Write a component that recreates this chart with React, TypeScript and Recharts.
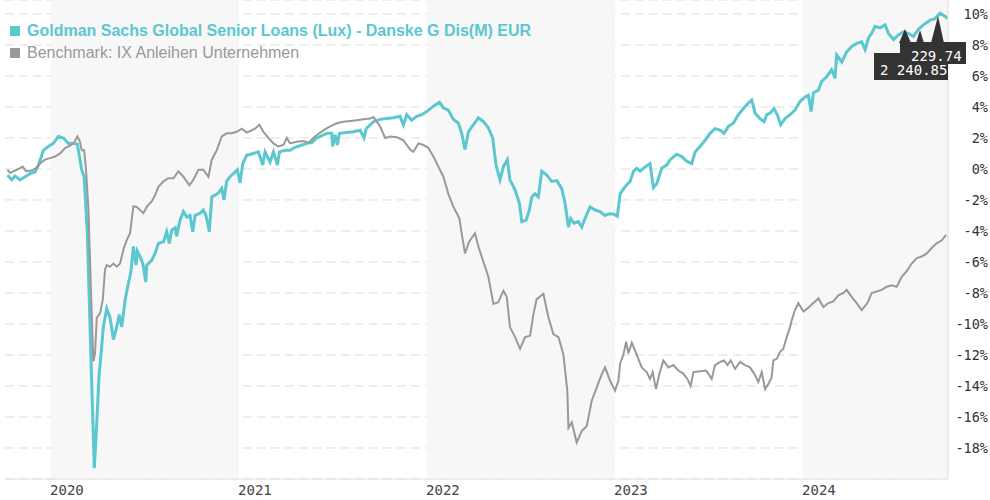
import { LineChart, Line, XAxis, YAxis, CartesianGrid, ReferenceArea } from "recharts"

// [year as decimal, performance in %]
const fundSeries: [number, number][] = [
  [2019.768, -0.4], [2019.791, -0.7], [2019.809, -0.45], [2019.835, -0.7], [2019.862, -0.5],
  [2019.888, -0.3], [2019.915, -0.2], [2019.933, 0.25], [2019.959, 1.2], [2019.986, 1.45],
  [2020.012, 1.65], [2020.039, 2.1], [2020.066, 2.0], [2020.092, 1.65], [2020.119, 1.65],
  [2020.14, 1.6], [2020.154, 0.6], [2020.163, -0.05], [2020.176, -0.5], [2020.193, -4.15],
  [2020.211, -11.7], [2020.23, -19.3], [2020.243, -16.4], [2020.255, -13.4], [2020.266, -11.9],
  [2020.278, -10.2], [2020.296, -9.0], [2020.314, -9.6], [2020.332, -11.0], [2020.349, -10.2],
  [2020.363, -9.4], [2020.376, -10.2], [2020.394, -8.45], [2020.411, -7.4], [2020.424, -6.7],
  [2020.438, -5.0], [2020.452, -6.2], [2020.459, -5.3], [2020.473, -5.65], [2020.488, -6.1],
  [2020.504, -7.3], [2020.509, -6.2], [2020.535, -5.9], [2020.553, -5.45], [2020.571, -4.8],
  [2020.598, -4.7], [2020.615, -4.05], [2020.629, -4.8], [2020.642, -3.95], [2020.66, -3.8],
  [2020.668, -4.35], [2020.686, -3.3], [2020.704, -2.75], [2020.722, -3.1], [2020.739, -3.0],
  [2020.754, -4.05], [2020.766, -3.0], [2020.793, -2.85], [2020.81, -2.65], [2020.824, -3.0],
  [2020.842, -4.05], [2020.855, -1.8], [2020.872, -1.7], [2020.89, -1.55], [2020.908, -1.25],
  [2020.92, -2.0], [2020.934, -0.8], [2020.952, -0.5], [2020.97, -0.3], [2020.991, -0.05],
  [2021.005, -0.9], [2021.02, 0.35], [2021.041, 0.9], [2021.05, 0.9], [2021.076, 1.0],
  [2021.103, 1.1], [2021.126, 0.25], [2021.138, 1.1], [2021.165, 0.45], [2021.183, 1.1],
  [2021.204, 0.25], [2021.215, 1.1], [2021.245, 1.2], [2021.271, 1.2], [2021.298, 1.4],
  [2021.324, 1.5], [2021.36, 1.65], [2021.387, 1.7], [2021.413, 2.0], [2021.449, 2.2],
  [2021.47, 2.3], [2021.493, 2.3], [2021.498, 1.45], [2021.511, 2.2], [2021.523, 1.55],
  [2021.534, 2.3], [2021.573, 2.35], [2021.608, 2.4], [2021.644, 2.5], [2021.665, 2.0],
  [2021.676, 2.6], [2021.715, 3.05], [2021.75, 3.2], [2021.785, 3.25], [2021.821, 3.3],
  [2021.856, 3.4], [2021.874, 2.85], [2021.892, 3.5], [2021.918, 3.15], [2021.945, 3.4],
  [2021.972, 3.5], [2021.998, 3.7], [2022.034, 4.05], [2022.066, 4.3], [2022.087, 3.95],
  [2022.113, 3.8], [2022.14, 3.2], [2022.167, 2.95], [2022.184, 2.3], [2022.202, 1.25],
  [2022.22, 2.4], [2022.246, 2.85], [2022.273, 3.3], [2022.3, 3.05], [2022.326, 2.65],
  [2022.349, 2.0], [2022.367, 0.25], [2022.388, -0.7], [2022.406, 0.15], [2022.427, 0.6],
  [2022.441, -0.7], [2022.468, -1.35], [2022.491, -2.2], [2022.504, -3.4], [2022.527, -3.3],
  [2022.544, -2.65], [2022.557, -1.8], [2022.574, -1.6], [2022.592, -1.8], [2022.61, -0.15],
  [2022.637, -0.4], [2022.663, -0.8], [2022.69, -0.75], [2022.716, -1.25], [2022.734, -2.2],
  [2022.752, -3.75], [2022.764, -3.2], [2022.782, -3.5], [2022.805, -3.4], [2022.823, -3.75],
  [2022.84, -3.2], [2022.867, -2.45], [2022.894, -2.65], [2022.92, -2.75], [2022.947, -3.0],
  [2022.965, -2.9], [2022.991, -2.9], [2023.012, -3.05], [2023.027, -1.6], [2023.053, -1.15],
  [2023.08, -0.8], [2023.098, -0.15], [2023.115, 0.05], [2023.133, -0.15], [2023.151, 0.05],
  [2023.186, 0.35], [2023.204, -1.2], [2023.222, -0.95], [2023.248, 0.05], [2023.275, 0.25],
  [2023.293, 0.6], [2023.328, 0.95], [2023.355, 0.8], [2023.381, 0.5], [2023.408, 0.35],
  [2023.426, 1.1], [2023.452, 1.45], [2023.479, 1.85], [2023.505, 2.3], [2023.532, 2.6],
  [2023.559, 2.5], [2023.58, 2.3], [2023.603, 2.75], [2023.629, 2.95], [2023.656, 3.5],
  [2023.683, 3.9], [2023.709, 4.25], [2023.727, 4.45], [2023.745, 3.6], [2023.771, 3.25],
  [2023.793, 3.05], [2023.807, 3.5], [2023.824, 3.6], [2023.846, 3.9], [2023.863, 3.5],
  [2023.881, 2.85], [2023.904, 3.25], [2023.931, 3.5], [2023.957, 3.8], [2023.984, 4.35],
  [2024.011, 4.65], [2024.028, 4.75], [2024.043, 3.7], [2024.055, 4.9], [2024.082, 5.1],
  [2024.099, 5.65], [2024.126, 5.95], [2024.152, 6.4], [2024.17, 5.85], [2024.179, 7.35],
  [2024.206, 6.9], [2024.232, 7.55], [2024.259, 7.9], [2024.285, 8.1], [2024.312, 8.2],
  [2024.33, 7.7], [2024.348, 8.45], [2024.365, 8.75], [2024.383, 9.2], [2024.41, 9.1],
  [2024.436, 9.3], [2024.454, 8.75], [2024.481, 8.35], [2024.507, 8.65], [2024.534, 8.85],
  [2024.56, 8.75], [2024.587, 8.55], [2024.613, 9.0], [2024.64, 9.3], [2024.676, 9.6],
  [2024.702, 9.7], [2024.729, 10.05], [2024.755, 9.85], [2024.768, 9.7],
]

const benchSeries: [number, number][] = [
  [2019.768, -0.05], [2019.782, -0.25], [2019.809, -0.1], [2019.835, 0.05], [2019.849, 0.15],
  [2019.867, -0.15], [2019.897, -0.1], [2019.92, 0.05], [2019.941, 0.35], [2019.968, 0.6],
  [2019.995, 0.7], [2020.021, 0.8], [2020.048, 1.0], [2020.074, 1.35], [2020.101, 1.5],
  [2020.122, 1.7], [2020.14, 2.1], [2020.154, 1.75], [2020.163, 1.2], [2020.176, 1.2],
  [2020.186, -0.05], [2020.199, -2.65], [2020.211, -7.4], [2020.225, -12.4], [2020.234, -11.9],
  [2020.243, -9.6], [2020.261, -9.3], [2020.275, -8.45], [2020.287, -6.5], [2020.296, -6.2],
  [2020.314, -6.3], [2020.332, -6.1], [2020.349, -6.3], [2020.367, -6.1], [2020.385, -5.2],
  [2020.402, -4.6], [2020.42, -4.15], [2020.438, -2.4], [2020.456, -2.45], [2020.473, -2.65],
  [2020.491, -2.85], [2020.509, -2.45], [2020.535, -2.1], [2020.553, -1.7], [2020.571, -1.15],
  [2020.598, -0.8], [2020.624, -0.6], [2020.651, -0.6], [2020.677, -0.15], [2020.704, -0.5],
  [2020.736, -1.05], [2020.757, -0.7], [2020.784, -0.05], [2020.81, -0.05], [2020.837, -0.5],
  [2020.855, 0.6], [2020.881, 1.2], [2020.908, 2.1], [2020.934, 2.3], [2020.961, 2.3],
  [2020.988, 2.4], [2021.014, 2.6], [2021.041, 2.35], [2021.059, 2.45], [2021.085, 2.6],
  [2021.108, 2.85], [2021.129, 2.4], [2021.156, 2.0], [2021.183, 1.65], [2021.209, 1.45],
  [2021.236, 1.55], [2021.254, 2.0], [2021.271, 1.65], [2021.307, 1.75], [2021.342, 1.8],
  [2021.369, 1.7], [2021.395, 2.0], [2021.431, 2.35], [2021.457, 2.55], [2021.484, 2.75],
  [2021.52, 2.95], [2021.555, 3.05], [2021.59, 3.1], [2021.626, 3.15], [2021.661, 3.2],
  [2021.697, 3.25], [2021.715, 3.35], [2021.732, 3.05], [2021.75, 2.75], [2021.777, 2.0],
  [2021.803, 2.1], [2021.839, 2.05], [2021.874, 1.85], [2021.91, 1.25], [2021.927, 1.1],
  [2021.954, 1.65], [2021.981, 1.55], [2022.007, 1.35], [2022.034, 0.8], [2022.06, 0.15],
  [2022.087, -0.5], [2022.113, -1.6], [2022.14, -2.45], [2022.158, -2.85], [2022.172, -3.2],
  [2022.184, -4.15], [2022.202, -5.45], [2022.22, -4.8], [2022.229, -4.6], [2022.255, -4.15],
  [2022.273, -5.0], [2022.3, -6.0], [2022.326, -6.95], [2022.353, -8.7], [2022.379, -8.6],
  [2022.406, -7.85], [2022.424, -8.25], [2022.441, -10.2], [2022.468, -10.85], [2022.495, -11.6],
  [2022.521, -10.85], [2022.548, -10.75], [2022.566, -9.35], [2022.583, -8.4], [2022.619, -8.05],
  [2022.645, -9.55], [2022.672, -10.65], [2022.699, -10.85], [2022.725, -11.95], [2022.746, -14.3],
  [2022.752, -16.7], [2022.77, -16.35], [2022.796, -17.65], [2022.823, -16.9], [2022.849, -16.6],
  [2022.876, -14.95], [2022.902, -14.1], [2022.929, -13.25], [2022.947, -12.8], [2022.973, -13.65],
  [2023.0, -14.3], [2023.018, -13.65], [2023.027, -12.55], [2023.044, -12.0], [2023.059, -11.15],
  [2023.071, -11.9], [2023.089, -11.2], [2023.106, -11.7], [2023.124, -12.25], [2023.142, -12.8],
  [2023.168, -13.1], [2023.186, -13.55], [2023.2, -13.1], [2023.218, -14.2], [2023.236, -13.2],
  [2023.257, -12.35], [2023.284, -12.8], [2023.31, -12.65], [2023.337, -13.0], [2023.363, -13.2],
  [2023.385, -13.55], [2023.402, -14.0], [2023.417, -13.1], [2023.452, -13.05], [2023.484, -13.0],
  [2023.496, -13.2], [2023.514, -13.55], [2023.532, -12.65], [2023.559, -12.45], [2023.58, -12.35],
  [2023.598, -12.65], [2023.615, -12.35], [2023.638, -12.9], [2023.665, -12.45], [2023.691, -12.65],
  [2023.718, -12.8], [2023.745, -13.3], [2023.762, -13.75], [2023.78, -13.1], [2023.798, -14.2],
  [2023.816, -13.85], [2023.833, -13.45], [2023.842, -12.35], [2023.86, -12.25], [2023.878, -11.8],
  [2023.895, -11.6], [2023.913, -10.85], [2023.931, -10.2], [2023.94, -9.75], [2023.957, -9.1],
  [2023.975, -8.65], [2024.002, -9.2], [2024.028, -8.95], [2024.055, -8.65], [2024.082, -8.35],
  [2024.108, -8.9], [2024.135, -8.65], [2024.161, -8.55], [2024.188, -8.15], [2024.215, -8.0],
  [2024.232, -7.8], [2024.259, -8.25], [2024.285, -8.65], [2024.312, -9.1], [2024.342, -8.65],
  [2024.365, -8.0], [2024.392, -7.9], [2024.418, -7.8], [2024.445, -7.6], [2024.472, -7.5],
  [2024.498, -7.6], [2024.525, -6.95], [2024.551, -6.6], [2024.578, -6.1], [2024.605, -5.75],
  [2024.631, -5.65], [2024.658, -5.45], [2024.684, -5.1], [2024.711, -4.8], [2024.738, -4.6],
  [2024.761, -4.25],
]

const yearTicks = [2020, 2021, 2022, 2023, 2024]
const shadedYears = [2020, 2022, 2024]
const pctTicks = [-20, -18, -16, -14, -12, -10, -8, -6, -4, -2, 0, 2, 4, 6, 8, 10]
const xDomain: [number, number] = [2019.755, 2024.771]

const fundName = "Goldman Sachs Global Senior Loans (Lux) - Danske G Dis(M) EUR"
const benchName = "Benchmark: IX Anleihen Unternehmen"
const tipFund = "229.74"
const tipBench = "2 240.85"

const TEAL = "#5bc7cf"
const GRAY = "#999999"

const fundData = fundSeries.map(([t, v]) => ({ t, v }))
const benchData = benchSeries.map(([t, v]) => ({ t, v }))

const monoFont = "'DejaVu Sans Mono', monospace"

function YearTick(props: any) {
  const { x, y, payload } = props
  return (
    <text x={x - 1} y={y} dy={8} textAnchor="start" fontSize={14} fontFamily={monoFont} fill="#444">
      {String(payload.value)}
    </text>
  )
}

function PctTick(props: any) {
  const { y, payload } = props
  if (payload.value === -20) return null
  return (
    <text x={988} y={y} dy={5} textAnchor="end" fontSize={13.5} fontFamily={monoFont} fill="#333">
      {`${payload.value}%`}
    </text>
  )
}

export default function App() {
  return (
    <div style={{ position: "absolute", left: 0, top: 0, width: 990, height: 500, background: "#fff" }}>
      <LineChart width={990} height={500} margin={{ top: 0, right: 0, left: 5, bottom: 0 }}>
        {shadedYears.map((yr) => (
          <ReferenceArea
            key={yr}
            x1={yr}
            x2={Math.min(yr + 1, xDomain[1])}
            y1={-20}
            y2={10.9}
            fill="#f7f7f7"
            fillOpacity={1}
            stroke="none"
            ifOverflow="hidden"
          />
        ))}
        <CartesianGrid vertical={false} stroke="#dddddd" strokeDasharray="9 5" />
        <XAxis
          type="number"
          dataKey="t"
          domain={xDomain}
          ticks={yearTicks}
          allowDataOverflow
          height={21}
          tickLine={false}
          axisLine={{ stroke: "#e2e2e2" }}
          tick={<YearTick />}
        />
        <YAxis
          type="number"
          orientation="right"
          domain={[-20, 10.9]}
          ticks={pctTicks}
          width={42}
          tickLine={false}
          axisLine={{ stroke: "#dddddd" }}
          tick={<PctTick />}
          allowDataOverflow
        />
        <Line
          data={fundData}
          dataKey="v"
          type="linear"
          stroke={TEAL}
          strokeWidth={3}
          dot={false}
          activeDot={false}
          isAnimationActive={false}
        />
        <Line
          data={benchData}
          dataKey="v"
          type="linear"
          stroke={GRAY}
          strokeWidth={2}
          dot={false}
          activeDot={false}
          isAnimationActive={false}
        />
      </LineChart>

      {/* legend */}
      <div style={{ position: "absolute", left: 10, top: 20, fontFamily: "'Liberation Sans', Arial, sans-serif", fontSize: 16, lineHeight: "22px" }}>
        <div style={{ color: TEAL, fontWeight: "bold", display: "flex", alignItems: "center" }}>
          <span style={{ display: "inline-block", width: 10, height: 10, background: TEAL, marginRight: 7 }} />
          {fundName}
        </div>
        <div style={{ color: GRAY, display: "flex", alignItems: "center" }}>
          <span style={{ display: "inline-block", width: 10, height: 10, background: GRAY, marginRight: 7 }} />
          {benchName}
        </div>
      </div>

      {/* hover labels left by the original tooltip */}
      <svg width={990} height={500} style={{ position: "absolute", left: 0, top: 0, pointerEvents: "none" }}>
        <polygon points="899,43 905,29 911,43" fill="#333" />
        <polygon points="916,43 920,30 924,43" fill="#333" />
        <polygon points="931,43 938,16 944,43" fill="#333" />
        <rect x={874} y={53} width={74} height={27} fill="#333" />
        <text x={880} y={75} fontSize={14} fontFamily={monoFont} fill="#fff">{tipBench}</text>
        <rect x={900} y={42} width={66} height={22} fill="#333" />
        <text x={911} y={61} fontSize={14} fontFamily={monoFont} fill="#fff">{tipFund}</text>
      </svg>
    </div>
  )
}
